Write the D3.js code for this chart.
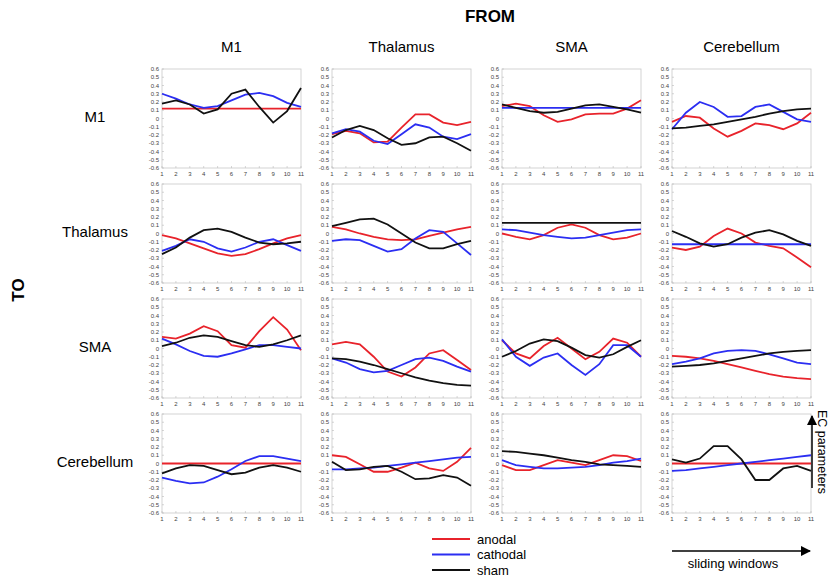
<!DOCTYPE html>
<html>
<head>
<meta charset="utf-8">
<script src="https://cdn.jsdelivr.net/npm/d3@7"></script>
<style>
  body { margin: 0; background: #fff; }
  svg { font-family: Arial, "Liberation Sans", sans-serif; }
  .tick-label { font-size: 6px; fill: #444; }
</style>
</head>
<body>
<div id="viz"></div>
<script>
const regions = ["M1", "Thalamus", "SMA", "Cerebellum"]
const windows = [1, 2, 3, 4, 5, 6, 7, 8, 9, 10, 11]
const yTicks = [0.6, 0.5, 0.4, 0.3, 0.2, 0.1, 0, -0.1, -0.2, -0.3, -0.4, -0.5, -0.6]
const seriesNames = ["anodal", "cathodal", "sham"]

// anodal[to][from]
const anodal = [
  [[0.12,0.12,0.12,0.12,0.12,0.12,0.12,0.12,0.12,0.12,0.12],
   [-0.19,-0.15,-0.18,-0.29,-0.28,-0.11,0.05,0.05,-0.05,-0.08,-0.04],
   [0.15,0.18,0.15,0.04,-0.04,-0.01,0.05,0.06,0.06,0.12,0.22],
   [-0.04,0.03,0.01,-0.12,-0.22,-0.15,-0.06,-0.08,-0.13,-0.06,0.07]],
  [[-0.02,-0.06,-0.12,-0.18,-0.24,-0.27,-0.25,-0.19,-0.12,-0.06,-0.02],
   [0.08,0.05,0.00,-0.04,-0.07,-0.08,-0.07,-0.03,0.01,0.05,0.08],
   [0.00,-0.04,-0.07,-0.02,0.07,0.11,0.07,-0.02,-0.07,-0.05,0.00],
   [-0.17,-0.20,-0.16,-0.03,0.06,0.00,-0.11,-0.15,-0.18,-0.29,-0.41]],
  [[0.14,0.12,0.18,0.27,0.21,0.04,0.01,0.21,0.38,0.23,-0.02],
   [0.05,0.08,0.05,-0.10,-0.28,-0.34,-0.23,-0.06,-0.02,-0.14,-0.26],
   [0.10,-0.06,-0.12,0.03,0.13,0.00,-0.13,-0.04,0.12,0.07,-0.10],
   [-0.09,-0.10,-0.12,-0.15,-0.19,-0.23,-0.27,-0.31,-0.34,-0.36,-0.37]],
  [[0,0,0,0,0,0,0,0,0,0,0],
   [0.10,0.08,-0.01,-0.10,-0.10,-0.05,0.01,-0.06,-0.09,0.02,0.19],
   [-0.02,-0.08,-0.08,-0.02,0.04,0.01,-0.02,0.04,0.10,0.09,0.03],
   [0,0,0,0,0,0,0,0,0,0,0]]
]

const cathodal = [
  [[0.30,0.24,0.17,0.13,0.15,0.22,0.29,0.31,0.27,0.19,0.14],
   [-0.18,-0.13,-0.16,-0.27,-0.31,-0.19,-0.07,-0.11,-0.22,-0.25,-0.19],
   [0.13,0.13,0.13,0.13,0.13,0.13,0.13,0.13,0.13,0.13,0.13],
   [-0.13,0.07,0.20,0.14,0.02,0.03,0.14,0.17,0.08,-0.01,-0.04]],
  [[-0.21,-0.15,-0.07,-0.10,-0.18,-0.22,-0.17,-0.10,-0.07,-0.14,-0.21],
   [-0.09,-0.07,-0.08,-0.15,-0.22,-0.19,-0.06,0.04,0.02,-0.12,-0.26],
   [0.05,0.04,0.01,-0.02,-0.04,-0.06,-0.05,-0.02,0.01,0.04,0.05],
   [-0.13,-0.13,-0.13,-0.13,-0.13,-0.13,-0.13,-0.13,-0.13,-0.13,-0.13]],
  [[0.12,0.05,-0.03,-0.09,-0.10,-0.06,-0.01,0.04,0.04,0.02,0.00],
   [-0.12,-0.17,-0.25,-0.29,-0.27,-0.20,-0.13,-0.11,-0.15,-0.22,-0.28],
   [0.11,-0.10,-0.21,-0.11,-0.06,-0.20,-0.32,-0.19,0.04,0.04,-0.10],
   [-0.19,-0.16,-0.12,-0.06,-0.03,-0.02,-0.03,-0.07,-0.12,-0.17,-0.19]],
  [[-0.17,-0.21,-0.24,-0.23,-0.16,-0.07,0.03,0.09,0.09,0.06,0.03],
   [-0.07,-0.07,-0.06,-0.05,-0.03,-0.01,0.01,0.03,0.05,0.07,0.08],
   [0.04,-0.02,-0.04,-0.06,-0.06,-0.05,-0.04,-0.02,0.01,0.03,0.06],
   [-0.09,-0.08,-0.06,-0.04,-0.02,0.00,0.02,0.04,0.06,0.08,0.10]]
]

const sham = [
  [[0.18,0.22,0.17,0.06,0.11,0.30,0.35,0.14,-0.05,0.09,0.37],
   [-0.23,-0.14,-0.09,-0.14,-0.24,-0.32,-0.30,-0.23,-0.22,-0.30,-0.39],
   [0.17,0.13,0.09,0.07,0.08,0.12,0.16,0.17,0.14,0.11,0.07],
   [-0.12,-0.11,-0.09,-0.07,-0.04,-0.01,0.02,0.06,0.09,0.11,0.12]],
  [[-0.25,-0.17,-0.05,0.04,0.06,0.02,-0.05,-0.11,-0.13,-0.12,-0.10],
   [0.09,0.13,0.17,0.18,0.11,0.00,-0.11,-0.18,-0.18,-0.13,-0.09],
   [0.13,0.13,0.13,0.13,0.13,0.13,0.13,0.13,0.13,0.13,0.13],
   [0.03,-0.04,-0.12,-0.16,-0.13,-0.05,0.01,0.04,-0.01,-0.09,-0.15]],
  [[0.03,0.07,0.13,0.16,0.14,0.09,0.04,0.02,0.05,0.10,0.16],
   [-0.12,-0.13,-0.16,-0.20,-0.25,-0.30,-0.35,-0.39,-0.42,-0.44,-0.45],
   [-0.10,-0.03,0.06,0.11,0.09,0.01,-0.08,-0.11,-0.07,0.02,0.10],
   [-0.22,-0.21,-0.20,-0.18,-0.15,-0.12,-0.09,-0.06,-0.04,-0.03,-0.02]],
  [[-0.12,-0.06,-0.02,-0.03,-0.08,-0.13,-0.11,-0.05,-0.02,-0.05,-0.10],
   [0.02,-0.08,-0.07,-0.04,-0.03,-0.10,-0.19,-0.18,-0.14,-0.17,-0.27],
   [0.15,0.14,0.12,0.10,0.07,0.04,0.02,-0.01,-0.02,-0.03,-0.04],
   [0.05,0.01,0.06,0.21,0.21,0.05,-0.20,-0.20,-0.06,-0.03,-0.09]]
]

const colors = {anodal: "#e8232b", cathodal: "#2b2ef2", sham: "#111111"}

const width = 834
const height = 579
const panelW = 139
const panelH = 99
const left0 = 162
const top0 = 69
const colStep = 170
const rowStep = 115

const svg = d3.select("#viz").append("svg")
  .attr("width", width)
  .attr("height", height)

const xScale = d3.scaleLinear().domain([1, 11]).range([0, panelW])
const yScale = d3.scaleLinear().domain([-0.6, 0.6]).range([panelH, 0])
const line = d3.line().x((d, i) => xScale(windows[i])).y(d => yScale(d))

const data = {anodal: anodal, cathodal: cathodal, sham: sham}

regions.forEach(function(toName, r) {
  regions.forEach(function(fromName, c) {
    const g = svg.append("g")
      .attr("transform", "translate(" + (left0 + c*colStep) + "," + (top0 + r*rowStep) + ")")

    g.append("rect")
      .attr("width", panelW).attr("height", panelH)
      .attr("fill", "#fff").attr("stroke", "#c8c8c8").attr("stroke-width", 0.8)

    // ticks inside the box, MATLAB style
    g.selectAll(".yt").data(yTicks).enter().append("line")
      .attr("x1", 0).attr("x2", 2)
      .attr("y1", d => yScale(d)).attr("y2", d => yScale(d))
      .attr("stroke", "#bbb").attr("stroke-width", 0.6)
    g.selectAll(".xt").data(windows).enter().append("line")
      .attr("x1", d => xScale(d)).attr("x2", d => xScale(d))
      .attr("y1", panelH).attr("y2", panelH - 2)
      .attr("stroke", "#bbb").attr("stroke-width", 0.6)

    g.selectAll(".yl").data(yTicks).enter().append("text")
      .attr("class", "tick-label")
      .attr("x", -3).attr("y", d => yScale(d) + 2)
      .attr("text-anchor", "end")
      .text(d => d)
    g.selectAll(".xl").data(windows).enter().append("text")
      .attr("class", "tick-label")
      .attr("x", d => xScale(d)).attr("y", panelH + 8)
      .attr("text-anchor", "middle")
      .text(d => d)

    seriesNames.forEach(function(s) {
      g.append("path")
        .datum(data[s][r][c])
        .attr("d", line)
        .attr("fill", "none")
        .attr("stroke", colors[s])
        .attr("stroke-width", 1.8)
    })
  })
})

// column titles
svg.selectAll(".col-title").data(regions).enter().append("text")
  .attr("x", (d, i) => left0 + i*colStep + panelW/2)
  .attr("y", 52)
  .attr("text-anchor", "middle")
  .style("font-size", "15px")
  .text(d => d)

// row titles
svg.selectAll(".row-title").data(regions).enter().append("text")
  .attr("x", 95)
  .attr("y", (d, i) => top0 + i*rowStep + 53)
  .attr("text-anchor", "middle")
  .style("font-size", "15px")
  .text(d => d)

svg.append("text")
  .attr("x", 490).attr("y", 22)
  .attr("text-anchor", "middle")
  .style("font-size", "17px").style("font-weight", "bold")
  .text("FROM")

svg.append("text")
  .attr("transform", "translate(24,290) rotate(-90)")
  .attr("text-anchor", "middle")
  .style("font-size", "17px").style("font-weight", "bold")
  .text("TO")

// legend
const legend = svg.append("g").attr("transform", "translate(432,539)")
seriesNames.forEach(function(s, i) {
  legend.append("line")
    .attr("x1", 0).attr("x2", 38)
    .attr("y1", i*15.5).attr("y2", i*15.5)
    .attr("stroke", colors[s]).attr("stroke-width", 2)
  legend.append("text")
    .attr("x", 45).attr("y", i*15.5 + 4.5)
    .style("font-size", "13px")
    .text(s)
})

// arrows
const defs = svg.append("defs")
defs.append("marker")
  .attr("id", "arrow")
  .attr("viewBox", "0 0 10 10")
  .attr("refX", 9).attr("refY", 5)
  .attr("markerWidth", 7).attr("markerHeight", 7)
  .attr("orient", "auto")
  .append("path").attr("d", "M0,0 L10,5 L0,10 z").attr("fill", "#000")

svg.append("line")
  .attr("x1", 672).attr("x2", 810)
  .attr("y1", 551).attr("y2", 551)
  .attr("stroke", "#000").attr("stroke-width", 1.5)
  .attr("marker-end", "url(#arrow)")
svg.append("text")
  .attr("x", 733).attr("y", 568)
  .attr("text-anchor", "middle")
  .style("font-size", "13px")
  .text("sliding windows")

svg.append("line")
  .attr("x1", 812).attr("x2", 812)
  .attr("y1", 488).attr("y2", 416)
  .attr("stroke", "#000").attr("stroke-width", 1.5)
  .attr("marker-end", "url(#arrow)")
svg.append("text")
  .attr("transform", "translate(818,452) rotate(90)")
  .attr("text-anchor", "middle")
  .style("font-size", "12.5px")
  .text("EC parameters")
</script>
</body>
</html>
